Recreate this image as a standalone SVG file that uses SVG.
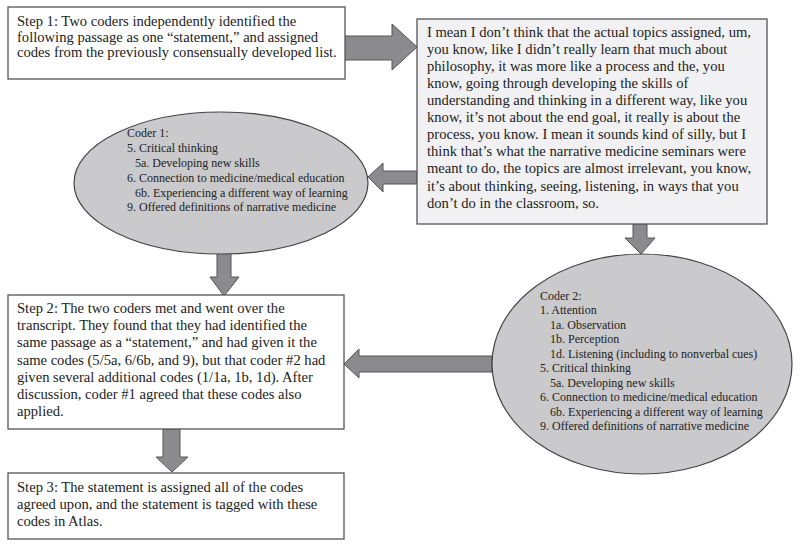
<svg xmlns="http://www.w3.org/2000/svg" width="800" height="548" viewBox="0 0 800 548">
<style>
.box{fill:#ffffff;stroke:#555558;stroke-width:1.3}
.quote{fill:#f1f1f3;stroke:#555558;stroke-width:1.3}
.ell{fill:#cacacc;stroke:#444446;stroke-width:1.2}
.arrow{fill:#8b8b8e;stroke:#555558;stroke-width:1}
text{font-family:"Liberation Serif","Times New Roman",serif;fill:#222222}
.t{font-size:14.6px}
.c{font-size:12px}
</style>
<rect width="800" height="548" fill="#ffffff"/>
<g id="connectors">
<polygon class="arrow" points="344,36 392,36 392,24 417,47 392,70 392,60 344,60"/>
<polygon class="arrow" points="417,171 383,171 383,163 368,177 383,192 383,184 417,184"/>
<polygon class="arrow" points="217,253 231,253 231,277 239,277 224,296 210,277 217,277"/>
<polygon class="arrow" points="492,356 359,356 359,349 344,364 359,378 359,372 492,372"/>
<polygon class="arrow" points="633,224 647,224 647,238 655,238 641,254 625,238 633,238"/>
<polygon class="arrow" points="163,429 180,429 180,457 188,457 172,472 156,457 163,457"/>
</g>
<g id="step1">
<rect class="box" x="8" y="7" width="337" height="72"/>
<text class="t" x="17" y="26">Step 1: Two coders independently identified the</text>
<text class="t" x="17" y="42">following passage as one “statement,” and assigned</text>
<text class="t" x="17" y="57">codes from the previously consensually developed list.</text>
</g>
<g id="quote">
<rect class="quote" x="417" y="19" width="350" height="205"/>
<text class="t" x="427" y="37">I mean I don’t think that the actual topics assigned, um,</text>
<text class="t" x="427" y="54">you know, like I didn’t really learn that much about</text>
<text class="t" x="427" y="71">philosophy, it was more like a process and the, you</text>
<text class="t" x="427" y="88">know, going through developing the skills of</text>
<text class="t" x="427" y="105">understanding and thinking in a different way, like you</text>
<text class="t" x="427" y="122">know, it’s not about the end goal, it really is about the</text>
<text class="t" x="427" y="139">process, you know. I mean it sounds kind of silly, but I</text>
<text class="t" x="427" y="156">think that’s what the narrative medicine seminars were</text>
<text class="t" x="427" y="173">meant to do, the topics are almost irrelevant, you know,</text>
<text class="t" x="427" y="191">it’s about thinking, seeing, listening, in ways that you</text>
<text class="t" x="427" y="208">don’t do in the classroom, so.</text>
</g>
<g id="coder1">
<ellipse class="ell" cx="221" cy="183" rx="147" ry="71"/>
<text class="c" x="127" y="137">Coder 1:</text>
<text class="c" x="127" y="152">5. Critical thinking</text>
<text class="c" x="135" y="167">5a. Developing new skills</text>
<text class="c" x="127" y="182">6. Connection to medicine/medical education</text>
<text class="c" x="135" y="197">6b. Experiencing a different way of learning</text>
<text class="c" x="127" y="211">9. Offered definitions of narrative medicine</text>
</g>
<g id="coder2">
<ellipse class="ell" cx="642" cy="364" rx="150" ry="110"/>
<text class="c" x="540" y="300">Coder 2:</text>
<text class="c" x="540" y="314">1. Attention</text>
<text class="c" x="550" y="329">1a. Observation</text>
<text class="c" x="550" y="343">1b. Perception</text>
<text class="c" x="550" y="358">1d. Listening (including to nonverbal cues)</text>
<text class="c" x="540" y="372">5. Critical thinking</text>
<text class="c" x="550" y="387">5a. Developing new skills</text>
<text class="c" x="540" y="401">6. Connection to medicine/medical education</text>
<text class="c" x="550" y="416">6b. Experiencing a different way of learning</text>
<text class="c" x="540" y="430">9. Offered definitions of narrative medicine</text>
</g>
<g id="step2">
<rect class="box" x="8" y="295" width="336" height="134"/>
<text class="t" x="17" y="313">Step 2: The two coders met and went over the</text>
<text class="t" x="17" y="330">transcript. They found that they had identified the</text>
<text class="t" x="17" y="347">same passage as a “statement,” and had given it the</text>
<text class="t" x="17" y="365">same codes (5/5a, 6/6b, and 9), but that coder #2 had</text>
<text class="t" x="17" y="382">given several additional codes (1/1a, 1b, 1d). After</text>
<text class="t" x="17" y="399">discussion, coder #1 agreed that these codes also</text>
<text class="t" x="17" y="416">applied.</text>
</g>
<g id="step3">
<rect class="box" x="8" y="473" width="336" height="66"/>
<text class="t" x="17" y="492">Step 3: The statement is assigned all of the codes</text>
<text class="t" x="17" y="509">agreed upon, and the statement is tagged with these</text>
<text class="t" x="17" y="526">codes in Atlas.</text>
</g>
</svg>
